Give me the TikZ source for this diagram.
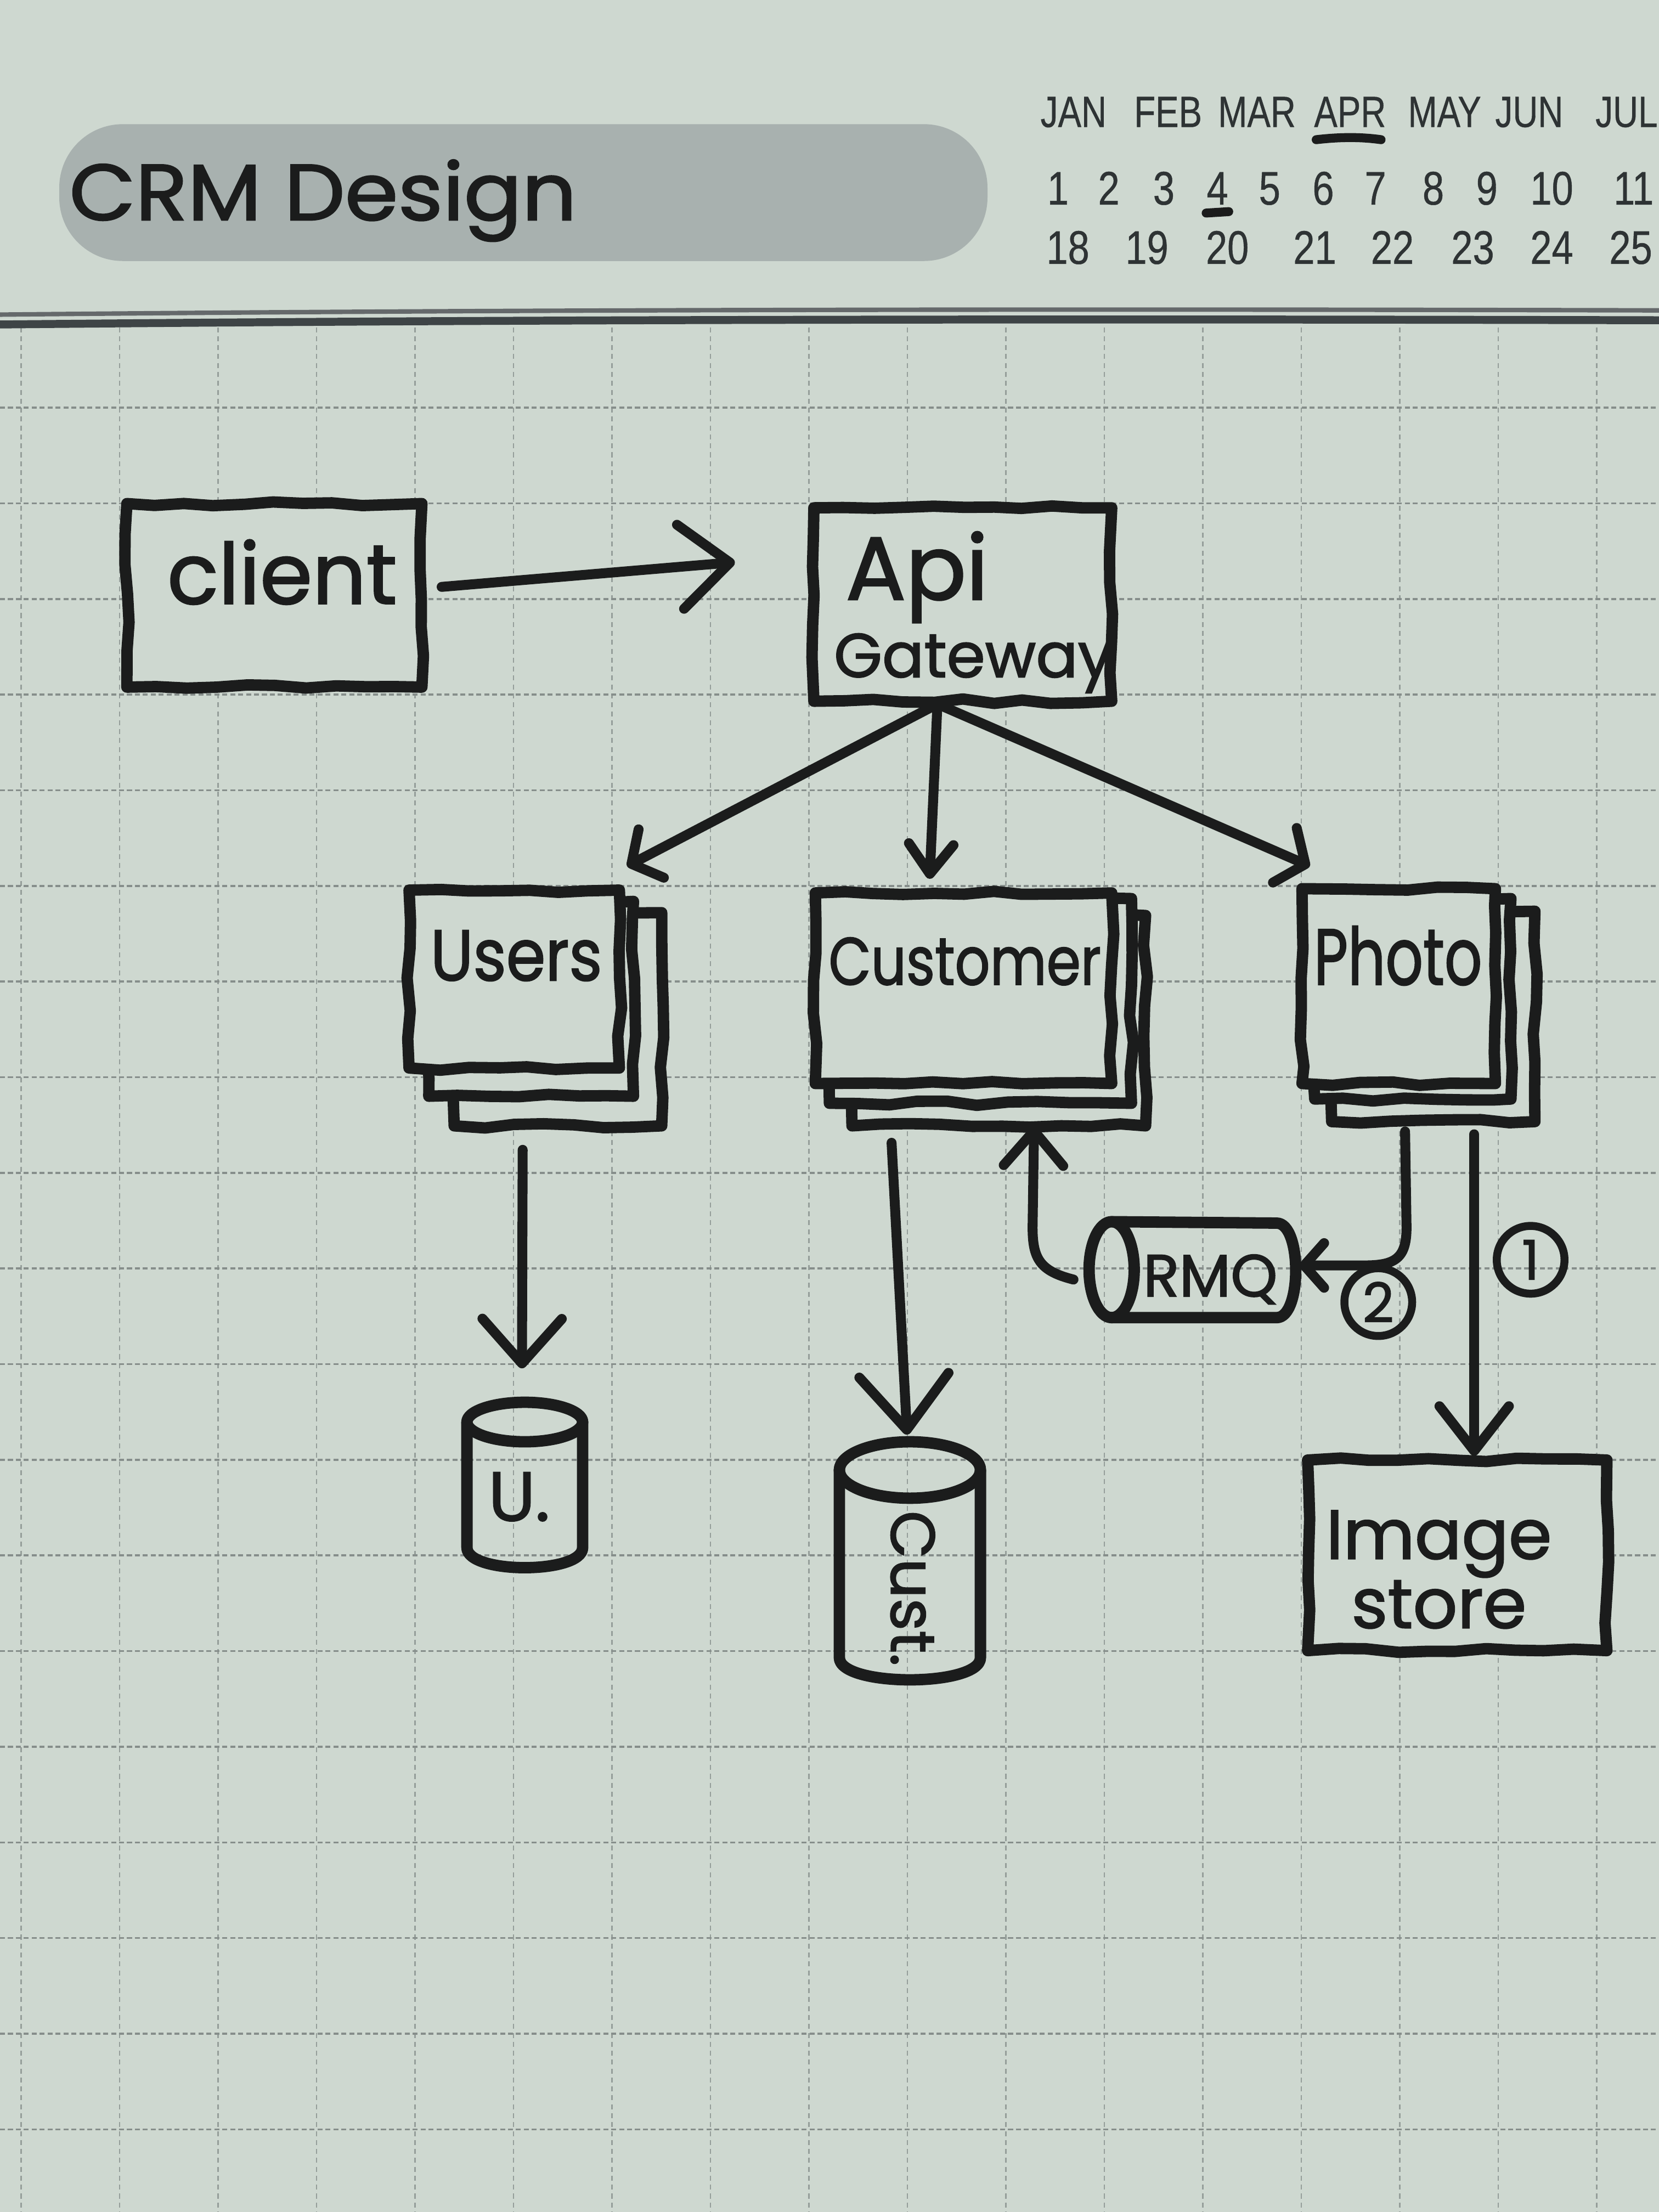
\documentclass[tikz,border=0pt]{standalone}
\usepackage{fontspec}
\newfontfamily\hand[FakeBold=1.7]{Poppins}
\newfontfamily\calfont[FakeBold=0.6]{Liberation Sans}
\usetikzlibrary{arrows.meta,calc,decorations.pathmorphing}
\definecolor{paper}{HTML}{CED8D0}
\definecolor{band}{HTML}{A8B1AF}
\definecolor{ink}{HTML}{1B1C1C}
\definecolor{gridc}{HTML}{959E9A}
\definecolor{calink}{HTML}{2E3334}
\definecolor{hdrline}{HTML}{3E4446}
\begin{document}
\begin{tikzpicture}[x=0.01cm,y=-0.01cm,
  gridv/.style={draw=gridc,line width=0.3pt,dash pattern=on 1pt off 0.8pt},
  gridh/.style={draw=gridc!90!black,line width=0.4pt,dash pattern=on 1pt off 0.6pt},
  box/.style={draw=ink,fill=paper,line width=2.3pt,line join=round,line cap=round,
    decorate,decoration={random steps,segment length=6pt,amplitude=0.45pt},
    inner sep=0pt,outer sep=0pt},
  cyl/.style={draw=ink,line width=2.3pt,line join=round,line cap=round},
  hidden/.style={inner sep=0pt,outer sep=0pt},
  arr/.style={draw=ink,line width=2pt,line cap=round,line join=round},
  txt/.style={text=ink,inner sep=0pt,anchor=base},
  calm/.style={text=calink,inner sep=0pt,anchor=base,xscale=0.8,font=\calfont\fontsize{8.8}{10}\selectfont},
  caln/.style={text=calink,inner sep=0pt,anchor=base,xscale=0.82,font=\calfont\fontsize{9.5}{11}\selectfont},
  numc/.style={circle,draw=ink,line width=1.6pt,minimum size=0.48cm,inner sep=0pt,text=ink,
    font=\hand\fontsize{11}{12}\selectfont}
]
\pgfmathsetseed{7}
\useasboundingbox (0,0) rectangle (1176,1568);
\fill[paper] (0,0) rectangle (1176,1568);
% grid
\foreach \k in {0,...,16} \draw[gridv] ({15+69.8*\k},232) -- ({15+69.8*\k},1568);
\foreach \k in {0,...,18} \draw[gridh] (0,{289+67.8*\k}) -- (1176,{289+67.8*\k});
% header lines
\draw[hdrline!80,line width=0.9pt] (0,223) .. controls (400,219) and (800,219) .. (1176,220);
\draw[hdrline,line width=1.6pt] (0,230) .. controls (400,226) and (800,226) .. (1176,227);
% title band
\fill[band,rounded corners=0.45cm] (42,88) rectangle (700,185);
\node[txt,font=\hand\fontsize{16}{18}\selectfont,xscale=1.08] (title) at (229,156) {CRM Design};
% calendar
\foreach \m/\x in {JAN/761,FEB/828,MAR/891,APR/957,MAY/1024,JUN/1084,JUL/1153}
  \node[calm] (m-\m) at (\x,90) {\m};
\foreach \n/\x in {1/750,2/786,3/825,4/863,5/900,6/938,7/975,8/1016,9/1054,10/1100,11/1158}
  \node[caln] (d-\n) at (\x,145) {\n};
\foreach \n/\x in {18/757,19/813,20/870,21/932,22/987,23/1044,24/1100,25/1156}
  \node[caln] (d-\n) at (\x,187) {\n};
\draw[ink,line width=1.8pt,line cap=round] (933,99) .. controls (950,97) and (965,97) .. (979,99);
\draw[ink,line width=1.8pt,line cap=round] (855,151) -- (871,150);
% client & api
\node[box,minimum width=2.09cm,minimum height=1.30cm] (client) at (194.5,422) {};
\node[txt,font=\hand\fontsize{17}{20}\selectfont] (clientT) at (200,428) {client};
\node[box,minimum width=2.11cm,minimum height=1.37cm] (api) at (682.5,428.5) {};
\node[txt,font=\hand\fontsize{18}{20}\selectfont] (apiT1) at (650,425) {Api};
\node[txt,font=\hand\fontsize{12.5}{15}\selectfont] (apiT2) at (690,480) {Gateway};
% users stack
\node[box,minimum width=1.47cm,minimum height=1.51cm] (users3) at (395.5,722.5) {};
\node[box,minimum width=1.45cm,minimum height=1.38cm] (users2) at (376.5,708) {};
\node[box,minimum width=1.49cm,minimum height=1.26cm] (users) at (364.5,694) {};
\node[txt,font=\hand\fontsize{14.5}{16}\selectfont,xscale=0.88] (usersT) at (366,695) {Users};
% customer stack
\node[box,minimum width=2.08cm,minimum height=1.49cm] (customer3) at (708,723.5) {};
\node[box,minimum width=2.14cm,minimum height=1.45cm] (customer2) at (695,709.5) {};
\node[box,minimum width=2.10cm,minimum height=1.35cm] (customer) at (683,700.5) {};
\node[txt,font=\hand\fontsize{13.5}{15}\selectfont,xscale=0.82] (customerT) at (684,698) {Customer};
% photo stack
\node[box,minimum width=1.44cm,minimum height=1.49cm] (photo3) at (1016,720.5) {};
\node[box,minimum width=1.39cm,minimum height=1.42cm] (photo2) at (1001.5,708) {};
\node[box,minimum width=1.37cm,minimum height=1.38cm] (photo) at (991.5,699) {};
\node[txt,font=\hand\fontsize{16}{18}\selectfont,xscale=0.74] (photoT) at (991,698) {Photo};
% image store
\node[box,minimum width=2.12cm,minimum height=1.35cm] (img) at (1033,1102.5) {};
\node[txt,font=\hand\fontsize{14}{16}\selectfont] (imgT1) at (1020,1105) {Image};
\node[txt,font=\hand\fontsize{14}{16}\selectfont] (imgT2) at (1020,1154) {store};
% U. cylinder
\node[hidden,minimum width=0.84cm,minimum height=1.17cm] (udb) at (372,1052.5) {};
\draw[cyl] (372,1008) ellipse [x radius=41, y radius=14];
\draw[cyl] (331,1008) -- (331,1097) .. controls (331,1116) and (413,1116) .. (413,1097) -- (413,1008);
\node[txt,font=\hand\fontsize{14}{16}\selectfont] (udbT) at (368,1078) {U.};
% Cust. cylinder
\node[hidden,minimum width=1.00cm,minimum height=1.69cm] (cdb) at (645,1106.5) {};
\draw[cyl] (645,1042) ellipse [x radius=50, y radius=20];
\draw[cyl] (595,1042) -- (595,1175) .. controls (595,1196) and (695,1196) .. (695,1175) -- (695,1042);
\node[text=ink,inner sep=0pt,rotate=-90,font=\hand\fontsize{12.5}{14}\selectfont] (cdbT) at (647,1126) {Cust.};
% RMQ cylinder
\node[hidden,minimum width=1.40cm,minimum height=0.68cm] (rmq) at (842,900) {};
\draw[cyl] (788,900) ellipse [x radius=16, y radius=34];
\draw[cyl] (788,866) -- (905,867) .. controls (923,867) and (923,934) .. (905,934) -- (788,934);
\node[txt,font=\hand\fontsize{12}{14}\selectfont] (rmqT) at (858,919) {RMQ};
% step numbers
\node[numc] (n1) at (1085,893) {1};
\node[numc] (n2) at (977,923) {2};
% connectors
\draw[arr,-{Straight Barb[length=10pt,width=17pt,round]}] ($(client.east)+(14,-6)$) -- ($(api.west)+(-56,-30)$);
\draw[arr,-{Straight Barb[length=4.5pt,width=11pt,round]}] ($(api.south)+(-18,2)$) -- ($(users.north)+(80,-17)$);
\draw[arr,-{Straight Barb[length=6pt,width=9pt,round]}] ($(api.south)+(-18,2)$) -- ($(customer.north)+(-24,-10)$);
\draw[arr,-{Straight Barb[length=4.5pt,width=12pt,round]}] ($(api.south)+(-18,2)$) -- ($(photo.north)+(-63,-16)$);
\draw[arr,-{Straight Barb[length=9pt,width=16pt,round]}] ($(users3.south)+(-25,17)$) -- ($(udb.north)+(-2,-24)$);
\draw[arr,-{Straight Barb[length=11pt,width=18pt,round]}] ($(customer3.south)+(-76,12)$) -- ($(cdb.north)+(-2,-5)$);
\draw[arr,-{Straight Barb[length=7pt,width=12pt,round]}] ($(rmq.west)+(-11,7)$) .. controls +(-24,-6) and +(0,22) .. ($(rmq.west)+(-40,-30)$) -- ($(customer3.south)+(25,0)$);
\draw[arr,-{Straight Barb[length=4pt,width=9pt,round]}] ($(photo3.south)+(-20,7)$) -- ($(rmq.east)+(85,-30)$) .. controls +(0,22) and +(22,0) .. ($(rmq.east)+(55,-3)$) -- ($(rmq.east)+(9,-3)$);
\draw[arr,-{Straight Barb[length=9pt,width=14pt,round]}] ($(photo3.south)+(29,9)$) -- ($(img.north)+(12,-3)$);
\end{tikzpicture}
\end{document}
